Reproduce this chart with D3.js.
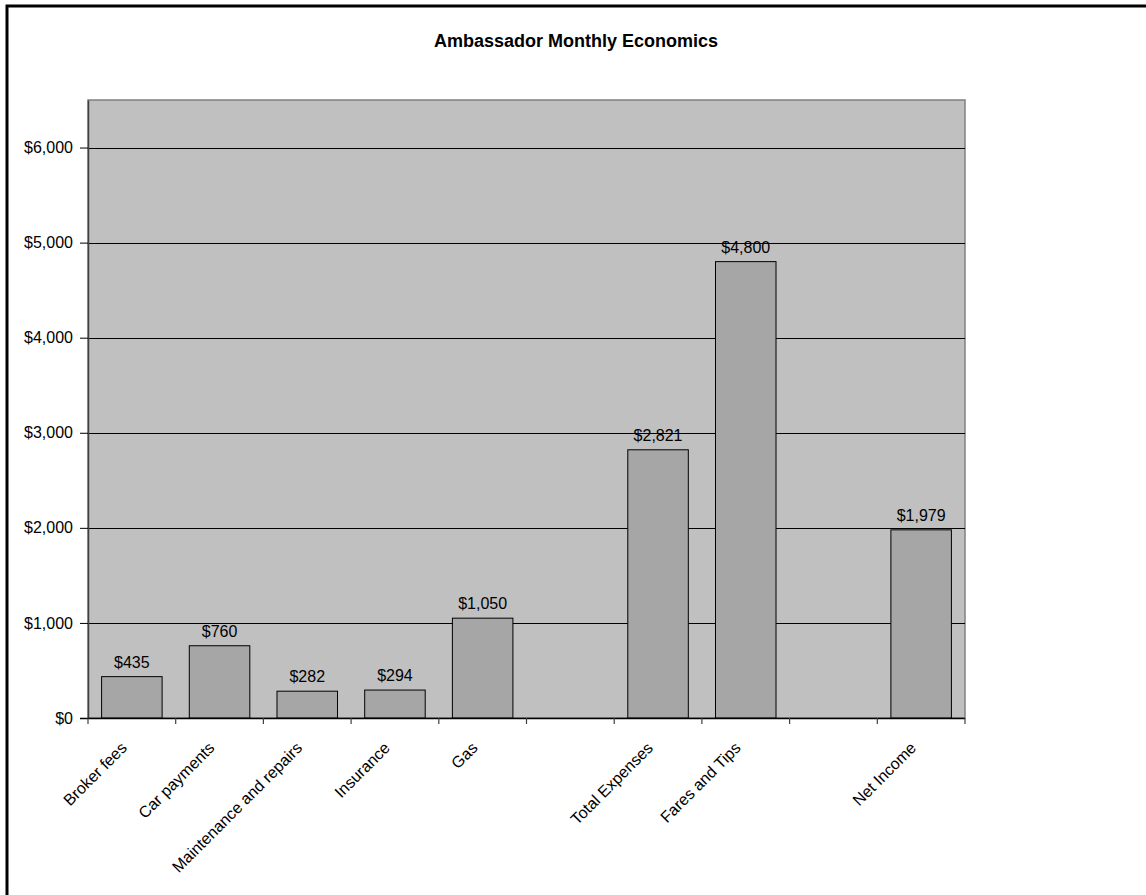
<!DOCTYPE html>
<html>
<head>
<meta charset="utf-8">
<script src="https://cdn.jsdelivr.net/npm/d3@7"></script>
<style>
  html, body { margin: 0; padding: 0; background: #fff; }
  svg { display: block; }
  text { font-family: Arial, "Liberation Sans", sans-serif; fill: #000; }
</style>
</head>
<body>
<svg id="chart" width="1146" height="895"></svg>
<script>
// Monthly figures per category; empty slots keep a gap on the axis
const categories = ["Broker fees", "Car payments", "Maintenance and repairs", "Insurance", "Gas",
                    "", "Total Expenses", "Fares and Tips", " ", "Net Income"];
const amounts = [435, 760, 282, 294, 1050, null, 2821, 4800, null, 1979];
const yTicks = [0, 1000, 2000, 3000, 4000, 5000, 6000];
const yMax = 6500;
const title = "Ambassador Monthly Economics";

const svg = d3.select("#chart");
const plot = { left: 88, right: 965, top: 100, bottom: 718 };
const fmt = d => "$" + d3.format(",")(d);

// outer frame
svg.append("rect")
  .attr("x", 7).attr("y", 6)
  .attr("width", 1150).attr("height", 900)
  .attr("fill", "#fff").attr("stroke", "#000").attr("stroke-width", 3);

svg.append("text")
  .attr("x", 576).attr("y", 47)
  .attr("text-anchor", "middle")
  .attr("font-size", 18).attr("font-weight", "bold")
  .text(title);

const x = d3.scaleBand().domain(categories).range([plot.left, plot.right]).padding(0);
const y = d3.scaleLinear().domain([0, yMax]).range([plot.bottom, plot.top]);
const barW = x.bandwidth() * 0.69;

// plot area background and border
svg.append("rect")
  .attr("x", plot.left).attr("y", plot.top)
  .attr("width", plot.right - plot.left).attr("height", plot.bottom - plot.top)
  .attr("fill", "#c0c0c0").attr("stroke", "#808080").attr("stroke-width", 1.5);

// horizontal gridlines
svg.append("g").selectAll("line")
  .data(yTicks.filter(d => d > 0))
  .join("line")
  .attr("x1", plot.left).attr("x2", plot.right)
  .attr("y1", d => Math.round(y(d)) + 0.5).attr("y2", d => Math.round(y(d)) + 0.5)
  .attr("stroke", "#000").attr("stroke-width", 1);

// bars
const data = categories.map((c, i) => ({ c, v: amounts[i] })).filter(d => d.v != null);
svg.append("g").selectAll("rect")
  .data(data)
  .join("rect")
  .attr("x", d => x(d.c) + (x.bandwidth() - barW) / 2)
  .attr("y", d => y(d.v))
  .attr("width", barW)
  .attr("height", d => y(0) - y(d.v))
  .attr("fill", "#a6a6a6").attr("stroke", "#000").attr("stroke-width", 1);

// value labels
svg.append("g").selectAll("text")
  .data(data)
  .join("text")
  .attr("x", d => x(d.c) + x.bandwidth() / 2)
  .attr("y", d => y(d.v) - 9)
  .attr("text-anchor", "middle")
  .attr("font-size", 16)
  .text(d => fmt(d.v));

// y axis
const yAxis = d3.axisLeft(y).tickValues(yTicks).tickFormat(fmt)
  .tickSizeInner(8).tickSizeOuter(0).tickPadding(7);
const gy = svg.append("g").attr("transform", `translate(${plot.left},0)`).call(yAxis);
gy.select(".domain").attr("stroke", "#404040").attr("stroke-width", 1.5);
gy.selectAll(".tick line").attr("stroke", "#000");
gy.selectAll(".tick text").attr("font-size", 16).attr("font-family", "Arial, 'Liberation Sans', sans-serif").attr("fill", "#000");

// x axis: ticks between categories
const boundaries = categories.map(c => x(c)).concat([plot.right]);
svg.append("line")
  .attr("x1", plot.left - 8).attr("x2", plot.right)
  .attr("y1", plot.bottom + 0.5).attr("y2", plot.bottom + 0.5)
  .attr("stroke", "#000").attr("stroke-width", 1.5);
svg.append("g").selectAll("line")
  .data(boundaries)
  .join("line")
  .attr("x1", d => d).attr("x2", d => d)
  .attr("y1", plot.bottom).attr("y2", plot.bottom + 6)
  .attr("stroke", "#404040").attr("stroke-width", 1.2);

svg.append("g").selectAll("text")
  .data(categories.filter(c => c.trim() !== ""))
  .join("text")
  .attr("transform", d => `translate(${x(d) + x.bandwidth() / 2 - 8},${plot.bottom + 27}) rotate(-45)`)
  .attr("text-anchor", "end")
  .attr("dy", "0.35em")
  .attr("font-size", 16)
  .text(d => d);
</script>
</body>
</html>
